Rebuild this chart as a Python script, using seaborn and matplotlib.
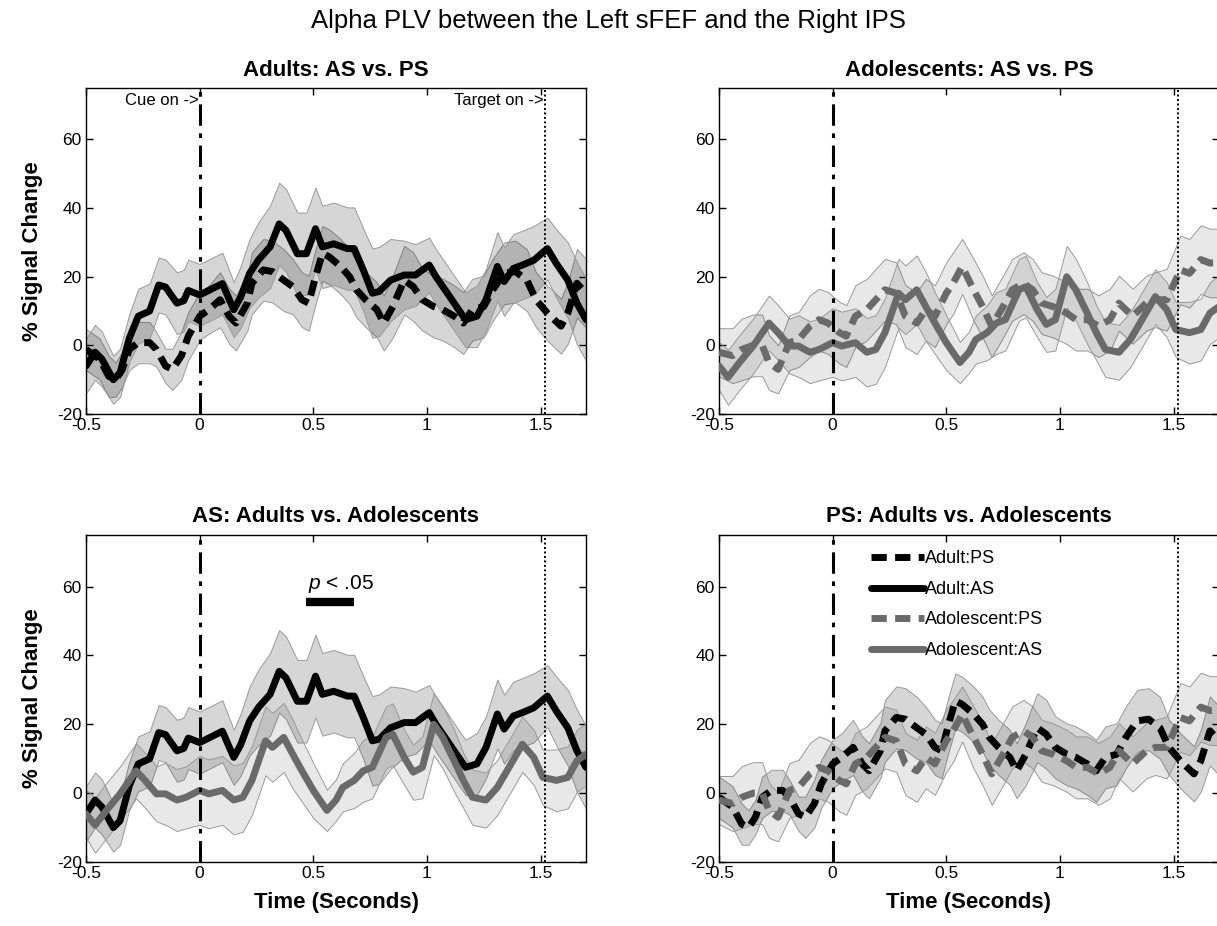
import numpy as np
import pandas as pd
import matplotlib
matplotlib.use("Agg")
import matplotlib.pyplot as plt
from matplotlib.lines import Line2D
import seaborn as sns

# ---------------- data ----------------
adult_as_t = [-0.50, -0.46, -0.43, -0.38, -0.35, -0.31, -0.27, -0.22, -0.18, -0.15,
              -0.10, -0.07, -0.05, 0.00, 0.04, 0.10, 0.15, 0.18, 0.22, 0.26,
              0.31, 0.35, 0.38, 0.43, 0.47, 0.51, 0.54, 0.59, 0.65, 0.68,
              0.72, 0.76, 0.79, 0.84, 0.90, 0.95, 1.01, 1.04, 1.09, 1.13,
              1.17, 1.22, 1.26, 1.31, 1.34, 1.38, 1.42, 1.47, 1.53, 1.57,
              1.62, 1.66, 1.70]
adult_as_mean = [-6, -2, -4, -10, -8, 2, 8.5, 10, 17.6, 17,
                 12.3, 13, 16, 14.7, 16, 18, 10.4, 14, 21, 25,
                 28.7, 35.4, 33.5, 26.7, 26.7, 34, 28.7, 29.6, 28.2, 28.2,
                 22, 15.2, 15.7, 19, 20.5, 20.5, 23.4, 20, 15.2, 11.3,
                 7.5, 8.5, 13.3, 23, 18.6, 22.4, 23.4, 24.8, 28.2, 23.8,
                 19, 12.3, 7.5]
adult_as_err = [8, 8, 8, 7, 7, 7, 8, 8, 8, 8,
                9, 9, 9, 9, 9, 9, 8, 9, 10, 11,
                12, 12, 12, 12, 12, 12, 12, 12, 12, 12,
                12, 13, 13, 12, 10, 9, 8, 8, 8, 8,
                8, 9, 9, 10, 10, 10, 10, 10, 9, 10,
                11, 12, 12]

adult_ps_t = [-0.50, -0.44, -0.40, -0.37, -0.34, -0.31, -0.27, -0.22, -0.19, -0.15,
              -0.12, -0.08, -0.05, 0.00, 0.04, 0.09, 0.13, 0.16, 0.21, 0.23,
              0.28, 0.32, 0.37, 0.41, 0.45, 0.48, 0.51, 0.54, 0.57, 0.62,
              0.66, 0.69, 0.73, 0.78, 0.81, 0.85, 0.90, 0.94, 0.98, 1.03,
              1.07, 1.12, 1.16, 1.20, 1.25, 1.29, 1.34, 1.39, 1.44, 1.48,
              1.53, 1.59, 1.62, 1.66, 1.70]
adult_ps_mean = [-1.2, -4, -9, -10, -7, -1.2, 0.8, 0.8, -1.2, -6,
                 -7, -3, 2.7, 8.5, 10.4, 13.3, 8.5, 6.5, 12.3, 18.1,
                 22, 21.5, 19, 17.1, 13.3, 12.3, 20, 26.8, 25.8, 23,
                 20, 16.2, 13.3, 10.4, 6.5, 11.3, 19, 17.1, 13.3, 11.3,
                 10.4, 8.5, 6.5, 10.4, 11.3, 16.2, 21, 21.5, 19, 13.3,
                 9.4, 5.6, 9.4, 18.1, 15.2]
adult_ps_err = [6, 6, 6, 5, 5, 6, 6, 6, 5, 5,
                6, 7, 7, 7, 7, 8, 8, 8, 8, 9,
                9, 9, 9, 8, 8, 8, 8, 8, 8, 8,
                8, 8, 8, 8, 8, 9, 10, 10, 9, 9,
                9, 9, 9, 9, 9, 9, 9, 9, 9, 8,
                8, 8, 9, 10, 10]

adol_as_t = [-0.50, -0.46, -0.41, -0.35, -0.28, -0.24, -0.19, -0.15, -0.10, -0.06,
             0.00, 0.04, 0.10, 0.15, 0.19, 0.23, 0.29, 0.32, 0.37, 0.41,
             0.45, 0.50, 0.56, 0.60, 0.63, 0.68, 0.72, 0.76, 0.82, 0.85,
             0.90, 0.94, 0.98, 1.03, 1.07, 1.12, 1.16, 1.20, 1.26, 1.31,
             1.37, 1.42, 1.47, 1.51, 1.57, 1.62, 1.66, 1.70]
adol_as_mean = [-6, -9.3, -5, -0.2, 6.5, 3.7, -0.2, -0.2, -2, -1.2,
                0.8, -0.2, 0.8, -2, -1.2, 3.7, 15.2, 13.3, 16.2, 11.3,
                6.5, 0.8, -5, -2, 1.7, 3.7, 6.5, 7.5, 16.2, 17.1,
                10.4, 6.1, 7.5, 20, 16.2, 9.4, 3.7, -1.2, -2, 1.7,
                8.5, 14.2, 10.4, 4.6, 3.7, 4.6, 9.4, 11.3]
adol_as_err = [7, 8, 8, 8, 8, 8, 8, 9, 9, 9,
               10, 10, 10, 10, 10, 10, 10, 10, 10, 10,
               9, 8, 6, 6, 7, 8, 9, 9, 9, 9,
               8, 8, 9, 9, 9, 9, 8, 8, 8, 8,
               8, 8, 8, 8, 9, 9, 9, 9]

adol_ps_t = [-0.50, -0.44, -0.40, -0.35, -0.31, -0.28, -0.24, -0.19, -0.15, -0.10,
             -0.06, -0.02, 0.03, 0.06, 0.10, 0.15, 0.19, 0.23, 0.28, 0.32,
             0.37, 0.41, 0.45, 0.50, 0.53, 0.57, 0.62, 0.66, 0.70, 0.75,
             0.79, 0.84, 0.88, 0.92, 0.97, 1.03, 1.07, 1.12, 1.17, 1.22,
             1.26, 1.32, 1.38, 1.42, 1.47, 1.53, 1.57, 1.62, 1.66, 1.70]
adol_ps_mean = [-2, -3, -1.2, 0, 0, -5, -7, 0.8, 1.7, 5.6,
                7.5, 6.5, 3.7, 2.7, 8.5, 10.4, 13.3, 16.2, 15.2, 8.5,
                6.5, 10.4, 8.5, 15.2, 18.1, 23, 16.2, 11.3, 5.6, 11.3,
                16.2, 18.1, 16.2, 12.3, 11.3, 9.4, 7.5, 7.5, 5.6, 7.5,
                12.3, 8.5, 12.3, 13.3, 13.3, 22, 21, 25, 24, 24]
adol_ps_err = [7, 8, 9, 9, 9, 8, 7, 8, 8, 9,
               9, 9, 9, 9, 9, 9, 9, 9, 9, 9,
               9, 9, 9, 9, 9, 8, 9, 9, 9, 9,
               9, 9, 9, 9, 9, 9, 9, 9, 9, 9,
               8, 8, 8, 8, 9, 10, 10, 10, 10, 10]

cue_time = 0.0
target_time = 1.52
sig_window = [0.47, 0.68]
sig_level = 55.5

x_ticks = [-0.5, 0, 0.5, 1, 1.5]
x_ticklabels = ["-0.5", "0", "0.5", "1", "1.5"]
y_ticks = [-20, 0, 20, 40, 60]
y_ticklabels = ["-20", "0", "20", "40", "60"]

suptitle = "Alpha PLV between the Left sFEF and the Right IPS"
panel_titles = ["Adults: AS vs. PS", "Adolescents: AS vs. PS",
                "AS: Adults vs. Adolescents", "PS: Adults vs. Adolescents"]
legend_labels = ["Adult:PS", "Adult:AS", "Adolescent:PS", "Adolescent:AS"]

# ---------------- style ----------------
sns.set_theme(style="ticks")
plt.rcParams["font.family"] = ["Liberation Sans", "DejaVu Sans"]
plt.rcParams["mathtext.fontset"] = "custom"
plt.rcParams["mathtext.rm"] = "Liberation Sans"
plt.rcParams["mathtext.it"] = "Liberation Sans:italic"
plt.rcParams["text.color"] = "black"
plt.rcParams["axes.labelcolor"] = "black"
plt.rcParams["axes.titlecolor"] = "black"

ADULT_C = "#000000"
ADOL_C = "#6a6a6a"
DASH = (0, (2.2, 1.2))

series = {
    "adult_ps": dict(t=adult_ps_t, m=adult_ps_mean, e=adult_ps_err, c=ADULT_C, ls=DASH, a=0.16),
    "adult_as": dict(t=adult_as_t, m=adult_as_mean, e=adult_as_err, c=ADULT_C, ls="-", a=0.16),
    "adol_ps": dict(t=adol_ps_t, m=adol_ps_mean, e=adol_ps_err, c=ADOL_C, ls=DASH, a=0.09),
    "adol_as": dict(t=adol_as_t, m=adol_as_mean, e=adol_as_err, c=ADOL_C, ls="-", a=0.09),
}

panels = [["adult_ps", "adult_as"], ["adol_ps", "adol_as"],
          ["adult_as", "adol_as"], ["adult_ps", "adol_ps"]]

W, H = 1217, 926
fig = plt.figure(figsize=(W / 100, H / 100), dpi=100)
rects = [
    (86, 88, 500, 326), (719, 88, 500, 326),
    (86, 535, 500, 327), (719, 535, 500, 327),
]
axes = []
for (x0, y0, w, h) in rects:
    axes.append(fig.add_axes([x0 / W, 1 - (y0 + h) / H, w / W, h / H]))

for i, (ax, keys) in enumerate(zip(axes, panels)):
    for k in keys:
        s = series[k]
        t = np.array(s["t"]); m = np.array(s["m"]); e = np.array(s["e"])
        ax.fill_between(t, m - e, m + e, facecolor=(0, 0, 0, s["a"]),
                        edgecolor=(0.6, 0.6, 0.6, 1), linewidth=0.7, zorder=1)
    for k in keys:
        s = series[k]
        df = pd.DataFrame({"t": s["t"], "v": s["m"]})
        sns.lineplot(data=df, x="t", y="v", ax=ax, color=s["c"], linewidth=5,
                     linestyle=s["ls"], zorder=3, legend=False, errorbar=None)

    ax.axvline(cue_time, color="black", linestyle=(0, (7, 2.5, 1.5, 2.5)), linewidth=2.2, zorder=4)
    ax.axvline(target_time, color="black", linestyle=(0, (1, 1.3)), linewidth=1.4, zorder=4)

    ax.set_xlim(-0.5, 1.7)
    ax.set_ylim(-20, 75)
    ax.set_xticks(x_ticks)
    ax.set_xticklabels(x_ticklabels)
    ax.set_yticks(y_ticks)
    ax.set_yticklabels(y_ticklabels)
    ax.tick_params(direction="in", length=5, width=1, colors="black",
                   top=True, right=True, bottom=True, left=True,
                   labelsize=12.5, pad=3)
    for sp in ax.spines.values():
        sp.set_visible(True)
        sp.set_color("black")
        sp.set_linewidth(1.0)
    ax.grid(False)
    ax.set_title(panel_titles[i], fontsize=16, fontweight="bold", pad=9)
    ax.set_xlabel("")
    ax.set_ylabel("")
    if i in (0, 2):
        ax.set_ylabel("% Signal Change", fontsize=16, fontweight="bold", labelpad=10)
    if i in (2, 3):
        ax.set_xlabel("Time (Seconds)", fontsize=16, fontweight="bold", labelpad=8)

# cue / target annotations
axes[0].text(cue_time - 0.005, 73.5, "Cue on ->", ha="right", va="top", fontsize=12)
axes[0].text(target_time - 0.005, 73.5, "Target on ->", ha="right", va="top", fontsize=12)

# significance marker
axes[2].plot(sig_window, [sig_level, sig_level], color="black", linewidth=6,
             solid_capstyle="butt", zorder=5)
axes[2].text(sig_window[0] + 0.005, sig_level + 2.2, r"$p$ < .05", ha="left",
             va="bottom", fontsize=15)

# legend
handles = [Line2D([], [], color=series[k]["c"], linestyle=series[k]["ls"], linewidth=5)
           for k in ["adult_ps", "adult_as", "adol_ps", "adol_as"]]
axes[3].legend(handles, legend_labels, loc="upper left", bbox_to_anchor=(0.29, 0.975),
               frameon=False, fontsize=13, handlelength=2.9, handletextpad=0.1,
               labelspacing=0.75, borderaxespad=0)

fig.text(0.5, 1 - 21 / H, suptitle, ha="center", va="center", fontsize=18.5)

fig.savefig("out.png", dpi=100)
